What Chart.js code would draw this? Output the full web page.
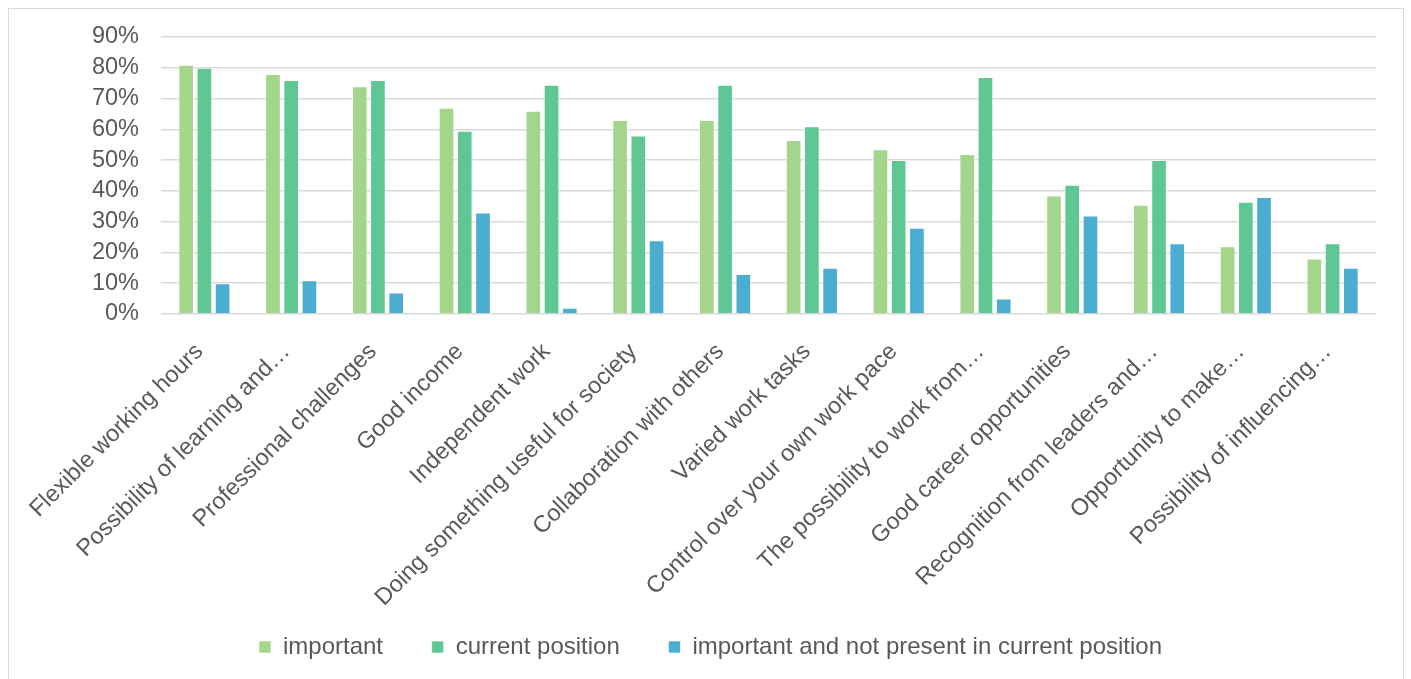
<!DOCTYPE html>
<html>
<head>
<meta charset="utf-8">
<script src="https://cdn.jsdelivr.net/npm/chart.js@4"></script>
<style>
  html, body { margin: 0; padding: 0; background: #fff; }
  .frame {
    position: absolute; left: 8px; top: 8px; width: 1396px; height: 680px;
    border: 1px solid #d9d9d9; box-sizing: border-box;
  }
  canvas { display: block; }
</style>
</head>
<body>
<div class="frame"><canvas id="chart" width="1394" height="678"></canvas></div>
<script>
const categories = [
  "Flexible working hours",
  "Possibility of learning and…",
  "Professional challenges",
  "Good income",
  "Independent work",
  "Doing something useful for society",
  "Collaboration with others",
  "Varied work tasks",
  "Control over your own work pace",
  "The possibility to work from…",
  "Good career opportunities",
  "Recognition from leaders and…",
  "Opportunity to make…",
  "Possibility of influencing…"
];

const important   = [0.81, 0.78, 0.74, 0.67, 0.66, 0.63, 0.63, 0.565, 0.535, 0.52, 0.385, 0.355, 0.22, 0.18];
const currentPos  = [0.80, 0.76, 0.76, 0.595, 0.745, 0.58, 0.745, 0.61, 0.50, 0.77, 0.42, 0.50, 0.365, 0.23];
const notPresent  = [0.10, 0.11, 0.07, 0.33, 0.02, 0.24, 0.13, 0.15, 0.28, 0.05, 0.32, 0.23, 0.38, 0.15];

const seriesNames = ["important", "current position", "important and not present in current position"];
const seriesColors = ["#a3d68b", "#5fc794", "#4badcf"];

const textColor = '#595959';
const fontFamily = '"Liberation Sans", Arial, sans-serif';
// extra gap after each legend entry except the last one
const legendGap = '\u00a0'.repeat(7);

const ctx = document.getElementById('chart').getContext('2d');
new Chart(ctx,
{
  type: 'bar',
  data:
  {
    labels: categories,
    datasets: [important, currentPos, notPresent].map((values, i) => ({
      label: seriesNames[i],
      data: values,
      backgroundColor: seriesColors[i],
      borderColor: 'rgba(255,255,255,0.6)',
      borderWidth: 1,
      categoryPercentage: 0.63,
      barPercentage: 0.86
    }))
  },
  options:
  {
    responsive: false,
    animation: false,
    layout: { padding: { top: 28, right: 27, left: 36, bottom: 18 } },
    plugins:
    {
      tooltip: { enabled: false },
      legend:
      {
        position: 'bottom',
        labels:
        {
          boxWidth: 12, boxHeight: 12,
          color: textColor,
          font: { family: fontFamily, size: 24 },
          padding: 2,
          generateLabels: chart =>
          {
            const items = Chart.defaults.plugins.legend.labels.generateLabels(chart);
            items.forEach((item, i) => { if (i < items.length - 1) item.text += legendGap; });
            return items;
          }
        }
      }
    },
    scales:
    {
      x:
      {
        grid: { display: false },
        border: { display: false },
        afterFit: scale => { scale.height = 319; },
        ticks:
        {
          color: textColor,
          font: { family: fontFamily, size: 23.5 },
          maxRotation: 45, minRotation: 45,
          autoSkip: false,
          padding: 16,
          labelOffset: -5
        }
      },
      y:
      {
        min: 0, max: 0.9,
        border: { display: false },
        grid: { color: '#d9d9d9', lineWidth: 1.5, drawTicks: false },
        afterFit: scale =>
        {
          scale.width = 116;
          scale.paddingTop = 0;
          scale.paddingBottom = 0;
        },
        ticks:
        {
          stepSize: 0.1,
          autoSkip: false,
          color: textColor,
          font: { family: fontFamily, size: 23.5 },
          padding: 22,
          callback: v => Math.round(v * 100) + '%'
        }
      }
    }
  }
});
</script>
</body>
</html>
